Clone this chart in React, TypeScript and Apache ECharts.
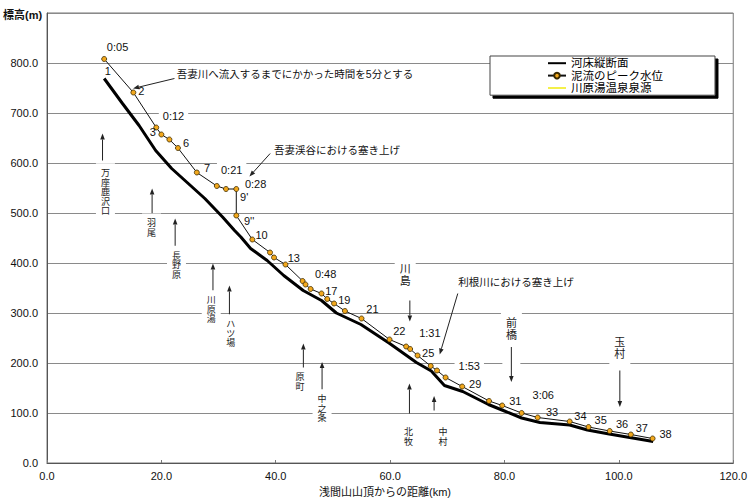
import React, { useEffect, useRef } from "react";
import * as echarts from "echarts";

// 泥流のピーク水位 (distance km, elevation m)
const peakKm = [10.0, 15.1, 19.1, 20.0, 21.4, 22.9, 26.2, 29.7, 31.3, 33.1, 33.1, 35.9, 39.0, 39.7, 41.7, 44.7, 45.2, 46.1, 48.0, 49.0, 50.2, 52.1, 55.0, 59.9, 62.8, 63.5, 64.8, 67.1, 68.2, 69.7, 72.6, 77.3, 79.6, 83.0, 85.8, 91.4, 94.7, 98.4, 102.1, 105.9];
const peakM = [808, 741, 671, 657, 647, 630, 581, 554, 548, 548, 495, 447, 421, 411, 397, 364, 357, 348, 339, 328, 319, 304, 289, 247, 233, 228, 215, 194, 185, 171, 153, 124, 115, 100, 91, 83, 72, 64, 57, 49];

// 河床縦断面
const bedKm = [10.0, 13.2, 16.1, 19.0, 21.8, 24.7, 27.6, 30.7, 32.8, 33.9, 35.6, 38.5, 41.4, 44.8, 48.0, 50.6, 54.9, 59.8, 64.6, 67.2, 69.5, 72.7, 77.2, 80.0, 83.0, 86.2, 91.4, 94.5, 98.3, 106.0];
const bedM = [769, 719, 675, 625, 589, 559, 529, 492, 465, 452, 429, 405, 375, 345, 325, 300, 277, 240, 201, 184, 155, 143, 117, 104, 90, 81, 76, 66, 58, 43];

const seriesNames = ["河床縦断面", "泥流のピーク水位", "川原湯温泉泉源"];

// point / time labels: text, km, m, boxed
const pointLabels: [string, number, number, boolean][] = [
  ["0:05", 12.34, 832, false], ["1", 10.62, 785, false], ["2", 16.48, 745, false],
  ["0:12", 22.12, 695, true], ["3", 18.5, 662, false], ["6", 24.31, 640, false],
  ["7", 27.98, 591, false], ["0:21", 32.29, 586, true], ["0:28", 36.48, 559, false],
  ["9'", 34.48, 532, false], ["9''", 35.34, 485, false], ["10", 37.52, 457, false],
  ["13", 43.16, 411, false], ["0:48", 48.72, 379, false], ["17", 49.71, 344, false],
  ["19", 52.0, 327, false], ["21", 56.9, 309, false], ["22", 61.6, 264, false],
  ["1:31", 66.95, 261, false], ["25", 66.66, 221, false], ["1:53", 73.84, 194, true],
  ["29", 74.88, 159, false], ["31", 81.9, 125, false], ["3:06", 86.78, 137, false],
  ["33", 88.33, 103, false], ["34", 93.28, 95, false], ["35", 96.83, 87, false],
  ["36", 100.57, 78, false], ["37", 104.02, 70, false], ["38", 108.16, 59, false],
];

// place names (vertical): text, km, m, fontSize
const placeLabels: [string, number, number, number][] = [
  ["万座鹿沢口", 10.22, 542, 9], ["羽尾", 18.28, 470, 9], ["長野原", 22.64, 396, 9],
  ["川原湯", 28.72, 307, 9], ["ハツ場", 32.12, 259, 9], ["原町", 44.24, 162, 9],
  ["中之条", 48.1, 109, 9], ["川島", 62.64, 376, 11], ["北牧", 63.21, 52, 9],
  ["中村", 69.24, 52, 9], ["前橋", 81.21, 268, 11], ["玉村", 100.17, 230, 11],
];

// arrows: fromKm, fromM, toKm, toM, gap
const arrows: [number, number, number, number, boolean][] = [
  [22.29, 769, 15.05, 749, false], [39.02, 619, 35.4, 573, false], [71.83, 339, 68.67, 217, false],
  [9.71, 605, 9.71, 659, false], [18.38, 499, 18.38, 549, false], [22.41, 422, 22.41, 489, false],
  [29.02, 332, 29.02, 399, false], [31.9, 295, 31.9, 355, false], [44.83, 185, 44.83, 239, false],
  [48.1, 145, 48.1, 202, false], [63.45, 325, 63.45, 283, false], [63.38, 99, 63.38, 159, false],
  [67.69, 105, 67.69, 134, false], [81.2, 232, 81.2, 162, true], [100.17, 185, 100.17, 112, true],
];

// notes: text, km, m (left / middle anchor)
const notes: [string, number, number][] = [
  ["吾妻川へ流入するまでにかかった時間を5分とする", 22.7, 779],
  ["吾妻渓谷における塞き上げ", 39.7, 627],
  ["利根川における塞き上げ", 71.9, 362],
];

const FONT = "'Liberation Sans', Arial, 'Noto Sans CJK JP', sans-serif";
const HIDDEN = { color: "rgba(0,0,0,0)", borderWidth: 0, opacity: 0 };

export default function App() {
  const ref = useRef<HTMLDivElement>(null);
  useEffect(() => {
    if (!ref.current) return;
    const chart = echarts.init(ref.current, null, { renderer: "svg" });
    const fmt = (v: number) => v.toFixed(1);
    chart.setOption({
      animation: false,
      backgroundColor: "#fff",
      textStyle: { fontFamily: FONT },
      grid: { left: 47, right: 7, top: 13, bottom: 37, show: true, borderColor: "#777", borderWidth: 1 },
      legend: {
        orient: "vertical",
        left: 490,
        top: 56,
        itemWidth: 18,
        itemHeight: 7,
        itemGap: 0,
        padding: [1, 52, 1, 57],
        backgroundColor: "#fff",
        borderColor: "#444",
        borderWidth: 1,
        shadowColor: "#000",
        shadowOffsetX: 3,
        shadowOffsetY: 3,
        shadowBlur: 0,
        selectedMode: false,
        z: 20,
        data: [
          { name: seriesNames[0], itemStyle: HIDDEN },
          { name: seriesNames[1] },
          { name: seriesNames[2], itemStyle: HIDDEN },
        ],
        textStyle: { fontSize: 11.5, lineHeight: 12.4, color: "#000", fontFamily: FONT },
      },
      xAxis: {
        type: "value",
        min: 0,
        max: 120,
        interval: 20,
        axisLine: { show: true, lineStyle: { color: "#555", width: 1 } },
        axisTick: { show: true, inside: true, length: 3, lineStyle: { color: "#777" } },
        axisLabel: { formatter: fmt, fontSize: 11, color: "#111", margin: 7, fontFamily: FONT },
        splitLine: { show: false },
      },
      yAxis: {
        type: "value",
        min: 0,
        max: 900,
        interval: 100,
        axisLine: { show: true, lineStyle: { color: "#555", width: 1 } },
        axisTick: { show: false },
        axisLabel: {
          formatter: (v: number) => (v >= 900 ? "" : fmt(v)),
          fontSize: 11,
          color: "#111",
          margin: 9,
          fontFamily: FONT,
        },
        splitLine: { show: true, lineStyle: { color: "#8a8a8a", width: 1 } },
      },
      series: [
        {
          name: seriesNames[0],
          type: "line",
          data: bedKm.map((k, i) => [k, bedM[i]]),
          showSymbol: false,
          symbol: "none",
          lineStyle: { color: "#000", width: 3 },
          itemStyle: { color: "#000" },
          z: 3,
        },
        {
          name: seriesNames[1],
          type: "line",
          data: peakKm.map((k, i) => [k, peakM[i]]),
          symbol: "circle",
          symbolSize: 5,
          lineStyle: { color: "#111", width: 1 },
          itemStyle: { color: "#f2a81d", borderColor: "#3a2a00", borderWidth: 0.8 },
          z: 4,
        },
        {
          name: seriesNames[2],
          type: "line",
          data: [],
          symbol: "none",
          lineStyle: { color: "#f4f04a", width: 1.5 },
          itemStyle: { color: "#f4f04a" },
        },
      ],
    });

    const px = (km: number, m: number) => chart.convertToPixel({ gridIndex: 0 }, [km, m]) as number[];
    const elements: any[] = [];

    arrows.forEach(([fk, fm, tk, tm, gap]) => {
      const [x1, y1] = px(fk, fm);
      const [x2, y2] = px(tk, tm);
      if (gap) {
        elements.push({
          type: "rect",
          shape: { x: x1 - 9, y: Math.min(y1, y2), width: 18, height: Math.abs(y2 - y1) },
          style: { fill: "#fff" },
          z: 40,
        });
      }
      const dx = x2 - x1, dy = y2 - y1;
      const len = Math.sqrt(dx * dx + dy * dy) || 1;
      const ux = dx / len, uy = dy / len;
      const L = 6, W = 2.3;
      const bx = x2 - ux * L, by = y2 - uy * L;
      elements.push({
        type: "line",
        shape: { x1, y1, x2: bx, y2: by },
        style: { stroke: "#222", lineWidth: 1 },
        z: 45,
      });
      elements.push({
        type: "polygon",
        shape: { points: [[x2, y2], [bx - uy * W, by + ux * W], [bx + uy * W, by - ux * W]] },
        style: { fill: "#222" },
        z: 45,
      });
    });

    pointLabels.forEach(([t, km, m, boxed]) => {
      const [x, y] = px(km, m);
      elements.push({
        type: "text",
        x,
        y,
        z: 50,
        style: {
          text: t,
          fontSize: 11,
          fontFamily: FONT,
          fill: "#111",
          align: "center",
          verticalAlign: "middle",
          textAlign: "center",
          textVerticalAlign: "middle",
          backgroundColor: boxed ? "#fff" : undefined,
          padding: boxed ? [2, 4] : 0,
        },
      });
    });

    placeLabels.forEach(([t, km, m, fs]) => {
      const [x, y] = px(km, m);
      const lh = fs === 9 ? 9.5 : 12;
      elements.push({
        type: "text",
        x,
        y,
        z: 50,
        style: {
          text: t.split("").join("\n"),
          fontSize: fs,
          lineHeight: lh,
          fontFamily: FONT,
          fill: "#222",
          align: "center",
          verticalAlign: "middle",
          textAlign: "center",
          textVerticalAlign: "middle",
          backgroundColor: "#fff",
          padding: [5, 5],
        },
      });
    });

    notes.forEach(([t, km, m]) => {
      const [x, y] = px(km, m);
      elements.push({
        type: "text",
        x,
        y,
        z: 50,
        style: {
          text: t,
          fontSize: 10.5,
          fontFamily: FONT,
          fill: "#111",
          align: "left",
          verticalAlign: "middle",
          textAlign: "left",
          textVerticalAlign: "middle",
        },
      });
    });

    // axis titles
    elements.push({
      type: "text",
      x: 3,
      y: 15,
      z: 50,
      style: { text: "標高(m)", fontSize: 11, fontWeight: "bold", fontFamily: FONT, fill: "#111", align: "left", verticalAlign: "middle", textAlign: "left", textVerticalAlign: "middle" },
    });
    elements.push({
      type: "text",
      x: 385,
      y: 492,
      z: 50,
      style: { text: "浅間山山頂からの距離(km)", fontSize: 11, fontFamily: FONT, fill: "#111", align: "center", verticalAlign: "middle", textAlign: "center", textVerticalAlign: "middle" },
    });

    chart.setOption({ graphic: { elements } });
    return () => chart.dispose();
  }, []);
  return <div ref={ref} style={{ width: 750, height: 500, position: "absolute", left: 0, top: 0 }} />;
}
